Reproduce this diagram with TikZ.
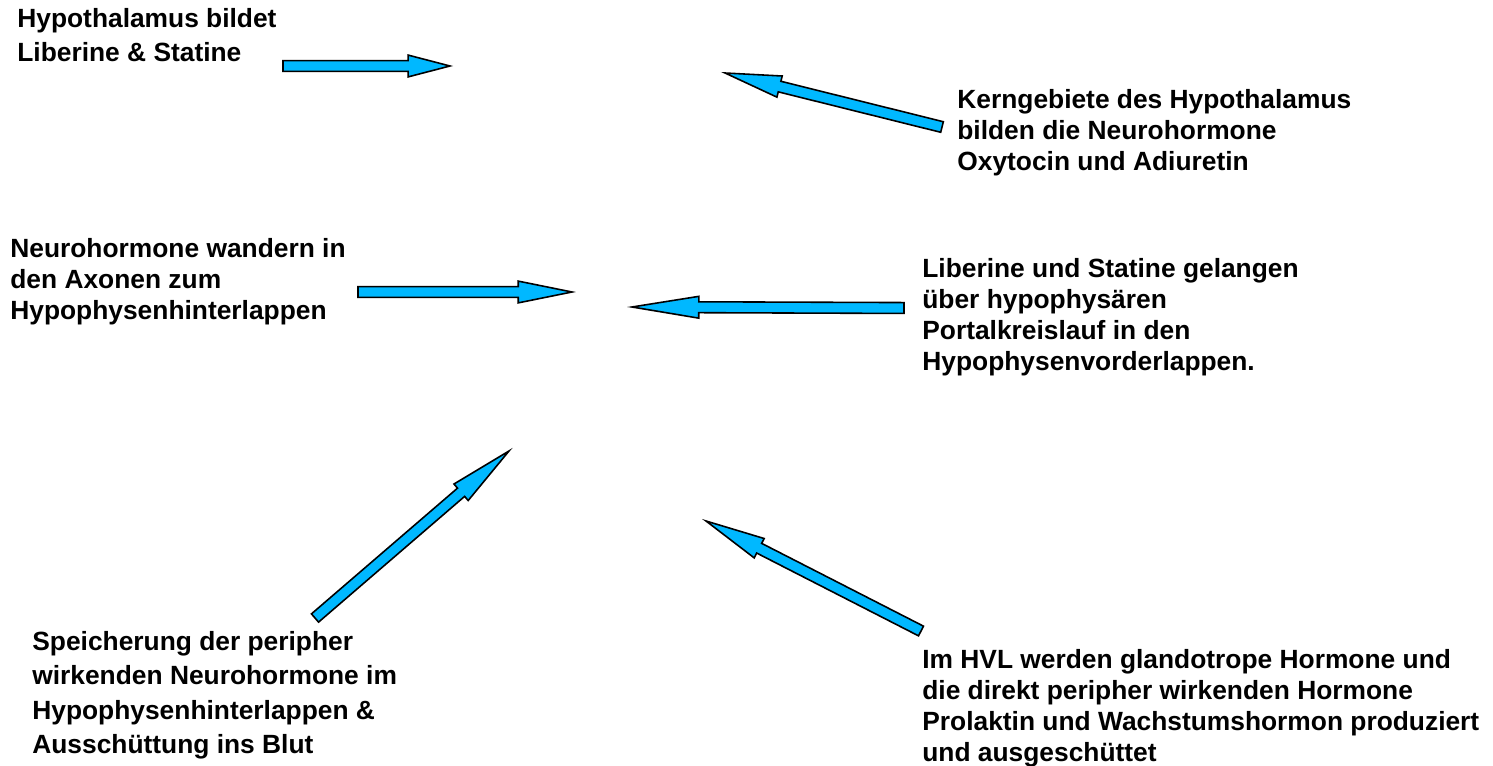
\documentclass[tikz,border=0pt]{standalone}
\usepackage{fontspec}
\setmainfont{Liberation Sans}
\usetikzlibrary{calc}

\definecolor{arrowblue}{RGB}{0,184,255}

% block arrow from #1 (tail) to #2 (tip), head length #3
\newcommand{\blockarrow}[3]{%
  \coordinate (hb) at ($(#2)!#3!(#1)$);
  \filldraw[fatarrow] ($(#1)!3.1pt!90:(#2)$) -- ($(hb)!3.1pt!90:(#2)$)
    -- ($(hb)!6.2pt!90:(#2)$) -- (#2) -- ($(hb)!6.2pt!-90:(#2)$)
    -- ($(hb)!3.1pt!-90:(#2)$) -- ($(#1)!3.1pt!-90:(#2)$) -- cycle;
}

\begin{document}
\begin{tikzpicture}[x=0.02cm, y=-0.02cm,
    fatarrow/.style={fill=arrowblue, draw=black, line width=0.9pt, line join=miter},
    label/.style={anchor=north west, inner sep=0pt, align=left,
      font=\fontsize{15}{17.7}\selectfont\bfseries},
    widelabel/.style={label, font=\fontsize{15}{19.6}\selectfont\bfseries}]
  \useasboundingbox (0,0) rectangle (1493,766);

  % Hypothalamus
  \node[widelabel] (hypo) at (17,8) {Hypothalamus bildet\\Liberine \& Statine};
  \coordinate (hypotail) at (283,66);
  \coordinate (hypotip) at (450,66);
  \blockarrow{hypotail}{hypotip}{23.8pt}

  % Kerngebiete
  \node[label] (kern) at (957,89) {Kerngebiete des Hypothalamus\\bilden die Neurohormone\\Oxytocin und Adiuretin};
  \coordinate (kerntail) at (942,127);
  \coordinate (kerntip) at (725,73);
  \blockarrow{kerntail}{kerntip}{32pt}

  % Axone
  \node[label] (axon) at (10,238) {Neurohormone wandern in\\den Axonen zum\\Hypophysenhinterlappen};
  \coordinate (axontail) at (358,292);
  \coordinate (axontip) at (572,292);
  \blockarrow{axontail}{axontip}{30.6pt}

  % Portalkreislauf
  \node[label] (portal) at (922,258) {Liberine und Statine gelangen\\über hypophysären\\Portalkreislauf in den\\Hypophysenvorderlappen.};
  \coordinate (portaltail) at (904,308);
  \coordinate (portaltip) at (632,307);
  \blockarrow{portaltail}{portaltip}{38pt}

  % HHL
  \node[widelabel] (hhl) at (32,631) {Speicherung der peripher\\wirkenden Neurohormone im\\Hypophysenhinterlappen \&\\Ausschüttung ins Blut};
  \coordinate (hhltail) at (315,618);
  \coordinate (hhltip) at (509,451);
  \blockarrow{hhltail}{hhltip}{36pt}

  % HVL
  \node[label] (hvl) at (922,649) {Im HVL werden glandotrope Hormone und\\die direkt peripher wirkenden Hormone\\Prolaktin und Wachstumshormon produziert\\und ausgeschüttet};
  \coordinate (hvltail) at (921,631);
  \coordinate (hvltip) at (706,521);
  \blockarrow{hvltail}{hvltip}{34pt}
\end{tikzpicture}
\end{document}
